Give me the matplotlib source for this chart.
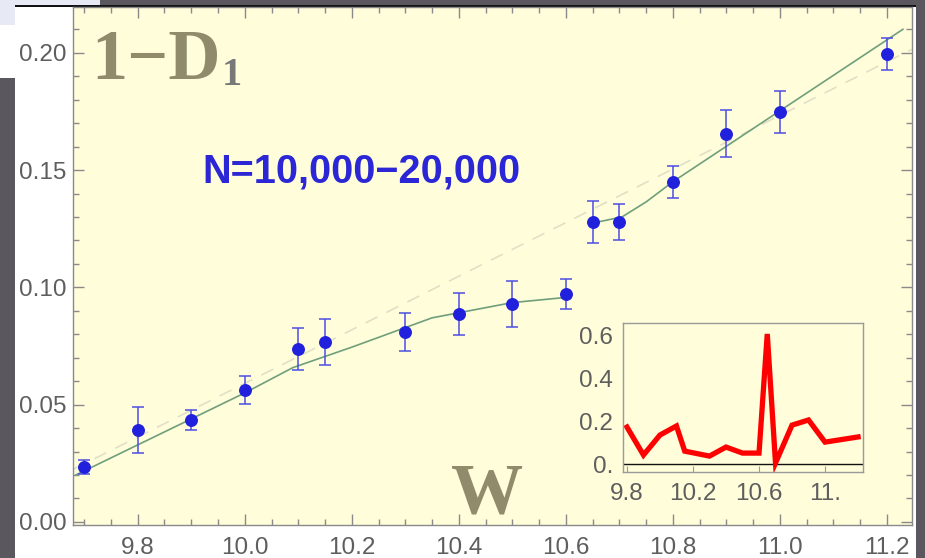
import matplotlib
matplotlib.use("Agg")
import matplotlib.pyplot as plt
from matplotlib.patches import Rectangle
from matplotlib.ticker import MultipleLocator, FixedLocator

# ---- data -------------------------------------------------------------
w_vals = [9.7, 9.8, 9.9, 10.0, 10.1, 10.15, 10.3, 10.4, 10.5, 10.6,
          10.65, 10.7, 10.8, 10.9, 11.0, 11.2]
one_minus_d1 = [0.0234, 0.0392, 0.0435, 0.0563, 0.0737, 0.0767, 0.0810,
                0.0887, 0.0929, 0.0972, 0.1279, 0.1279, 0.1449, 0.1654,
                0.1748, 0.1995]
d1_err = [0.0030, 0.0100, 0.0041, 0.0060, 0.0088, 0.0100, 0.0081, 0.0090,
          0.0096, 0.0064, 0.0090, 0.0077, 0.0070, 0.0100, 0.0090, 0.0068]

# fitted curve, two branches
fit_low_w = [9.684, 10.0, 10.09, 10.2, 10.35, 10.5, 10.6]
fit_low_y = [0.0200, 0.0550, 0.0658, 0.0745, 0.0870, 0.0935, 0.0957]
fit_high_w = [10.65, 10.705, 10.75, 10.8, 11.23]
fit_high_y = [0.1274, 0.1300, 0.1364, 0.1450, 0.2100]

# straight reference line
ref_w = [9.68, 11.247]
ref_y = [0.0225, 0.2015]

# inset series
inset_w = [9.8, 9.9, 10.0, 10.1, 10.15, 10.3, 10.4, 10.5, 10.6, 10.65,
           10.7, 10.8, 10.9, 11.0, 11.2]
inset_y = [0.172, 0.042, 0.135, 0.177, 0.060, 0.037, 0.079, 0.051, 0.051,
           0.605, 0.005, 0.181, 0.205, 0.102, 0.126]

x_ticks = [9.8, 10.0, 10.2, 10.4, 10.6, 10.8, 11.0, 11.2]
x_ticklabels = ["9.8", "10.0", "10.2", "10.4", "10.6", "10.8", "11.0", "11.2"]
y_ticks = [0.00, 0.05, 0.10, 0.15, 0.20]
y_ticklabels = ["0.00", "0.05", "0.10", "0.15", "0.20"]
inset_xticks = [9.8, 10.2, 10.6, 11.0]
inset_xticklabels = ["9.8", "10.2", "10.6", "11."]
inset_yticks = [0.0, 0.2, 0.4, 0.6]
inset_yticklabels = ["0.", "0.2", "0.4", "0.6"]

# ---- style ------------------------------------------------------------
W_PX, H_PX = 925, 558
BG = "#fffdda"
FRAME = "#8a8a8a"
LABEL = "#5e5e5e"
OLIVE = "#8f8b6b"
plt.rcParams["font.family"] = ["Liberation Sans", "DejaVu Sans"]

fig = plt.figure(figsize=(W_PX / 100, H_PX / 100), dpi=100)
fig.patch.set_facecolor("white")


def fx(px):
    return px / W_PX


def fy(py):
    return 1 - py / H_PX


def band(x0, y0, x1, y1, color):
    fig.add_artist(Rectangle((fx(x0), fy(y1)), fx(x1) - fx(x0), fy(y0) - fy(y1),
                             transform=fig.transFigure, facecolor=color,
                             edgecolor="none", zorder=-5))


# window surroundings
band(0, 78, 15, 558, "#5a585e")
band(0, 0, 15, 25, "#e7e9f4")
band(0, 0, 100, 5, "#e7e9f4")
band(100, 0, 925, 5, "#5a585e")
band(916, 0, 925, 558, "#5a585e")
band(15, 5, 916, 7, "#111111")

# ---- main axes --------------------------------------------------------
ax = fig.add_axes([fx(73), fy(525), fx(912) - fx(73), fy(7) - fy(525)])
ax.set_facecolor(BG)
ax.set_xlim(9.679, 11.247)
ax.set_ylim(-0.0013, 0.2195)

ax.plot(ref_w, ref_y, color="#dfe0c6", lw=1.2, dashes=(8, 6), zorder=1)
ax.plot(fit_low_w, fit_low_y, color="#6f9f7c", lw=1.2, zorder=2)
ax.plot(fit_high_w, fit_high_y, color="#6f9f7c", lw=1.2, zorder=2)
ax.errorbar(w_vals, one_minus_d1, yerr=d1_err, fmt="o", color="#2020dd",
            ecolor="#4d4de2", elinewidth=1.1, capsize=4, capthick=1.1,
            markersize=8.3, zorder=3)

for s in ax.spines.values():
    s.set_color(FRAME)
    s.set_linewidth(1.0)

ax.xaxis.set_major_locator(FixedLocator(x_ticks))
ax.set_xticklabels(x_ticklabels)
ax.xaxis.set_minor_locator(MultipleLocator(0.05))
ax.yaxis.set_major_locator(FixedLocator(y_ticks))
ax.set_yticklabels(y_ticklabels)
ax.yaxis.set_minor_locator(MultipleLocator(0.01))
ax.tick_params(which="both", direction="in", top=True, right=True,
               color=FRAME, width=1.0)
ax.tick_params(which="major", length=8)
ax.tick_params(which="minor", length=4.5)
ax.tick_params(axis="x", which="major", labelsize=17.5, labelcolor=LABEL, pad=9)
ax.tick_params(axis="y", which="major", labelsize=17.5, labelcolor=LABEL, pad=4.5)

# labels drawn in the plot area
fig.text(fx(91), fy(79), "1\u2212D", family=["Liberation Serif", "DejaVu Serif"],
         weight="bold", fontsize=52, color=OLIVE, ha="left", va="baseline")
fig.text(fx(222), fy(85), "1", family=["Liberation Serif", "DejaVu Serif"],
         weight="bold", fontsize=29, color="#787878", ha="left", va="baseline")
fig.text(fx(451), fy(513), "W", family=["Liberation Serif", "DejaVu Serif"],
         weight="bold", fontsize=52, color=OLIVE, ha="left", va="baseline")
fig.text(fx(202), fy(182), "N=10,000\u221220,000", weight="bold", fontsize=28.5,
         color="#2b27d6", ha="left", va="baseline")

# ---- inset ------------------------------------------------------------
ins = fig.add_axes([fx(623), fy(472), fx(863) - fx(623), fy(323) - fy(472)])
ins.set_facecolor(BG)
ins.set_xlim(9.776, 11.23)
ins.set_ylim(-0.037, 0.656)
ins.axhline(0, color="#111111", lw=1.0, zorder=1)
ins.plot(inset_w, inset_y, color="#ff0000", lw=3.8, zorder=2,
         solid_joinstyle="miter")
for s in ins.spines.values():
    s.set_color("#9a9a9a")
    s.set_linewidth(1.0)
ins.set_xticks(inset_xticks)
ins.set_xticklabels(inset_xticklabels)
ins.set_yticks(inset_yticks)
ins.set_yticklabels(inset_yticklabels)
ins.tick_params(axis="x", direction="in", length=4, color="#9a9a9a",
                labelsize=17.5, labelcolor=LABEL, pad=8)
ins.tick_params(axis="y", length=0, labelsize=17.5, labelcolor=LABEL, pad=7)

fig.savefig("out.png", dpi=100, facecolor=fig.get_facecolor())
